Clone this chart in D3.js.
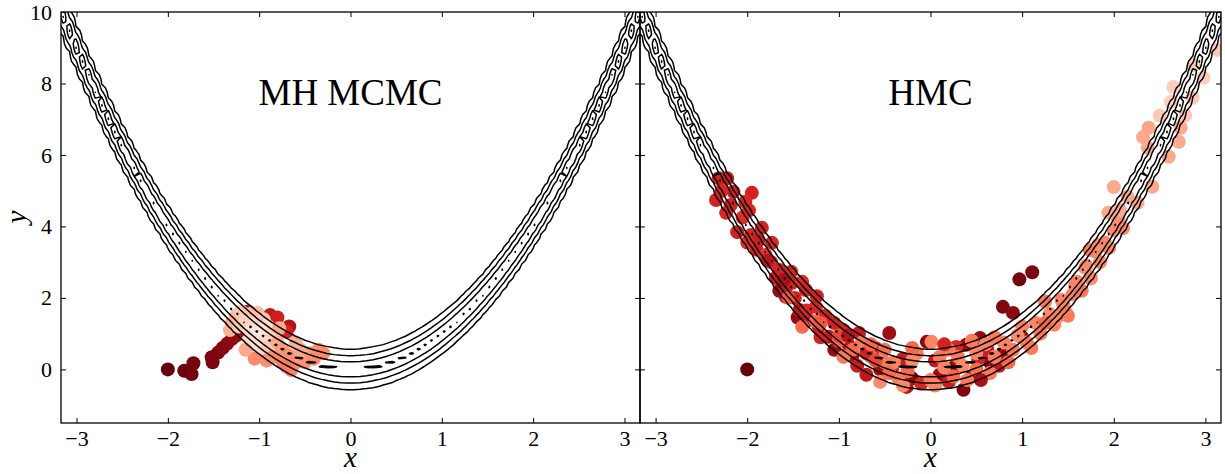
<!DOCTYPE html>
<html>
<head>
<meta charset="utf-8">
<script src="https://cdn.jsdelivr.net/npm/d3@7"></script>
<style>
  body { margin: 0; background: #fff; }
  svg { display: block; }
</style>
</head>
<body>
<svg id="fig" width="1225" height="474"></svg>
<script>
// ---- tick values and panel titles ----
const xTicks = [-3, -2, -1, 0, 1, 2, 3];
const yTicks = [0, 2, 4, 6, 8, 10];
const panelTitles = ["MH MCMC", "HMC"];

// ---- Metropolis-Hastings samples (x, y, colour value on the Reds map) ----
const mhX = [-2.00, -1.82, -1.74, -1.72, -1.51, -1.52, -1.45, -1.40, -1.35, -1.30, -1.25, -1.18,
  -1.12, -0.88, -0.80, -0.67, -0.70,
  -1.30, -1.25, -1.20, -1.10, -1.02, -1.32, -1.22, -1.15, -1.05, -0.95, -0.90, -1.10, -1.00,
  -0.92, -0.85, -1.12, -1.05, -0.98, -0.90, -0.80, -0.75, -0.85, -0.92, -0.75, -0.68, -0.62,
  -0.55, -0.65, -0.70, -0.50, -0.45, -0.40, -0.35, -0.30, -0.55, -0.60, -1.00, -0.78, -1.05, -1.15];
const mhY = [0.00, -0.04, -0.13, 0.17, 0.20, 0.34, 0.47, 0.60, 0.72, 0.85, 0.95, 1.05,
  1.62, 1.52, 1.45, 1.20, 1.05,
  1.30, 1.50, 1.62, 1.55, 1.58, 1.10, 1.20, 1.35, 1.30, 1.40, 1.20, 1.05, 0.95,
  0.85, 1.00, 0.80, 0.60, 0.45, 0.62, 0.75, 0.55, 0.35, 0.25, 0.25, 0.40, 0.15,
  0.35, -0.02, 0.08, 0.20, 0.45, 0.30, 0.55, 0.45, 0.55, 0.75, 1.10, 1.15, 0.30, 0.55];
const mhC = [1.00, 0.99, 0.98, 0.97, 0.96, 0.96, 0.95, 0.94, 0.93, 0.92, 0.91, 0.88,
  0.80, 0.78, 0.74, 0.82, 0.72,
  0.30, 0.25, 0.20, 0.22, 0.25, 0.28, 0.20, 0.18, 0.15, 0.20, 0.15, 0.12, 0.12,
  0.14, 0.18, 0.13, 0.12, 0.15, 0.20, 0.30, 0.35, 0.40, 0.38, 0.42, 0.38, 0.40,
  0.35, 0.42, 0.45, 0.38, 0.35, 0.40, 0.38, 0.40, 0.30, 0.28, 0.10, 0.30, 0.40, 0.30];

// ---- Hamiltonian Monte Carlo samples ----
const hmcX = [
  -2.00, 0.97, 1.11, 0.79, 0.90, 0.36, -0.04, 0.39, 0.54, -0.45, 0.10, -0.20, 0.25, -0.55, 0.65,
  -1.45, -1.65, -1.05, -0.85, 0.45, 0.80, 1.00,
  -2.31, -2.22, -2.34, -2.15, -1.95, -2.02, -2.23, -2.11, -1.96, -1.84, -2.05, -1.73, -1.90, -1.74,
  -1.65, -1.69, -1.52, -1.51, -1.40, -1.36, -1.58, -1.58, -1.43, -1.33, -1.22, -1.11, -1.25, -1.15,
  -0.95, -0.78, -0.90, -0.70, -0.42, -0.26, 0.28, 0.52, 0.62, -0.60, -0.30, 0.05, 0.20, -0.10,
  0.75, -0.80, -1.20, -1.80,
  -1.40, -1.00, -0.75, -0.65, -0.50, -0.40, -0.35, -0.25, -0.15, 0.01, 0.10, 0.00, 0.15, 0.30,
  0.40, 0.50, 0.60, 0.70, 0.80, 0.90, 1.00, 1.05, 1.15, 1.20, 1.30, 1.35, 1.45, 1.50, -0.55,
  -0.30, -0.50, -0.20, 0.20, 0.35, 0.50, 0.65, -0.85, -1.25, -0.95, 1.55, 1.60, 1.65, 1.70, 1.75,
  1.80, 1.85, 1.90, 1.95, 2.00, 2.05, 2.10,
  -2.28, -2.18, -1.98, -1.88, -2.00, -1.78, -1.60, -1.48, -1.35, -1.24, -1.20, -1.05, -1.00,
  -0.90, -0.70, -0.65, -0.60, -1.55, -0.45, -0.20, 0.05, 0.25, 0.15, 0.45, 0.55, 0.70, 0.85,
  0.95, 1.10, 1.25, 1.40, 1.43, 1.47, 1.58, 1.69, 1.74, 1.83, 1.25,
  1.94, 2.15, 2.26, 2.42, 2.60, 2.71, 2.73, 2.32, 2.37, 2.38, 2.62, 2.65, 2.86, 2.87, 2.98, 3.13,
  2.50, 2.78, 2.07, 2.00];
const hmcY = [
  0.00, 2.52, 2.72, 1.75, 1.58, -0.57, 0.77, 0.69, 0.88, 1.02, -0.15, -0.25, 0.05, 0.00, 0.20,
  1.45, 2.20, 0.55, 0.40, -0.20, 0.45, 0.90,
  5.35, 5.35, 4.74, 4.97, 4.94, 4.69, 4.38, 3.84, 3.76, 3.96, 4.25, 3.54, 3.35, 3.00,
  2.78, 2.56, 2.73, 2.42, 2.45, 2.22, 2.17, 2.03, 1.66, 1.38, 1.19, 0.91, 1.75, 1.50,
  1.10, 1.02, 0.70, -0.15, 0.00, -0.49, 0.63, 0.30, 0.55, 0.60, 0.30, 0.25, -0.35, -0.40,
  0.10, 0.10, 0.90, 3.20,
  1.19, 0.80, 0.75, 0.35, 0.55, 0.20, -0.25, -0.05, 0.45, 0.77, 0.35, -0.30, 0.05, 0.35,
  -0.30, 0.00, 0.70, 0.35, 0.75, 0.55, 1.20, 0.75, 1.30, 1.00, 1.55, 1.25, 1.80, 1.50, -0.35,
  -0.45, 0.20, 0.25, 0.55, 0.10, 0.45, -0.10, 0.55, 1.35, 0.35, 2.10, 2.45, 2.20, 2.90, 2.55,
  3.30, 3.00, 3.55, 3.40, 3.90, 4.20, 3.95,
  5.00, 4.60, 4.45, 3.60, 3.55, 3.05, 2.50, 2.00, 1.65, 2.05, 1.30, 1.30, 0.95,
  0.95, 0.45, 0.70, 0.25, 2.00, -0.10, 0.60, -0.45, -0.20, 0.70, 0.80, -0.30, 0.90, 0.20,
  0.95, 0.60, 1.30, 1.50, 1.94, 1.60, 2.36, 2.84, 3.34, 3.48, 1.90,
  4.38, 4.83, 4.66, 5.11, 5.95, 6.37, 6.76, 6.50, 6.20, 6.76, 7.48, 7.90, 7.60, 8.52, 8.16, 8.94,
  7.10, 7.10, 4.46, 5.10];
const hmcC = [
  1.00, 0.97, 0.96, 0.95, 0.92, 0.95, 0.93, 0.90, 0.90, 0.88, 0.90, 0.92, 0.90, 0.88, 0.90,
  0.90, 0.90, 0.90, 0.88, 0.90, 0.90, 0.88,
  0.72, 0.75, 0.72, 0.74, 0.72, 0.70, 0.70, 0.72, 0.70, 0.72, 0.68, 0.70, 0.72, 0.70,
  0.72, 0.75, 0.70, 0.72, 0.68, 0.72, 0.75, 0.80, 0.78, 0.80, 0.75, 0.78, 0.70, 0.72,
  0.70, 0.75, 0.78, 0.78, 0.72, 0.80, 0.70, 0.72, 0.75, 0.72, 0.75, 0.78, 0.75, 0.70,
  0.78, 0.75, 0.72, 0.65,
  0.50, 0.50, 0.45, 0.45, 0.48, 0.42, 0.45, 0.50, 0.45, 0.42, 0.45, 0.45, 0.42, 0.45,
  0.45, 0.48, 0.42, 0.45, 0.42, 0.45, 0.42, 0.45, 0.42, 0.45, 0.40, 0.42, 0.40, 0.45, 0.40,
  0.40, 0.45, 0.40, 0.45, 0.40, 0.42, 0.45, 0.50, 0.50, 0.45, 0.42, 0.42, 0.45, 0.42, 0.40,
  0.42, 0.40, 0.42, 0.40, 0.40, 0.38, 0.40,
  0.70, 0.72, 0.70, 0.75, 0.68, 0.80, 0.85, 0.72, 0.70, 0.72, 0.55, 0.72, 0.60,
  0.82, 0.72, 0.50, 0.60, 0.55, 0.50, 0.50, 0.42, 0.50, 0.72, 0.45, 0.85, 0.45, 0.50,
  0.40, 0.45, 0.50, 0.42, 0.42, 0.45, 0.42, 0.40, 0.42, 0.40, 0.45,
  0.30, 0.30, 0.30, 0.30, 0.30, 0.30, 0.30, 0.30, 0.30, 0.32, 0.18, 0.18, 0.20, 0.18, 0.18, 0.20,
  0.20, 0.20, 0.30, 0.30];

// ---- banana-shaped target density: ridge along y = x^2 ----
const ridgeWidth = 0.25;
const contourLevels = [0.08, 0.32, 0.70, 0.98];
const gridX = { min: -3.5, max: 3.5, n: 100 };
const gridY = { min: -1.66, max: 10.6, n: 100 };
function density(x, y) {
  const r = (y - x * x) / ridgeWidth;
  return Math.exp(-0.5 * r * r);
}

// ---- layout ----
const plotTop = 12, plotBottom = 423;
const panels = [
  { left: 61, right: 640, title: panelTitles[0], xs: mhX, ys: mhY, cs: mhC, yLabels: true },
  { left: 640, right: 1221, title: panelTitles[1], xs: hmcX, ys: hmcY, cs: hmcC, yLabels: false }
];
const serif = "'Liberation Serif', 'Times New Roman', Times, serif";
const svg = d3.select("#fig");

// density grid, evaluated once and shared by both panels
const dxg = (gridX.max - gridX.min) / (gridX.n - 1);
const dyg = (gridY.max - gridY.min) / (gridY.n - 1);
const gridValues = new Float64Array(gridX.n * gridY.n);
for (let j = 0; j < gridY.n; j++) {
  for (let i = 0; i < gridX.n; i++) {
    gridValues[j * gridX.n + i] = density(gridX.min + i * dxg, gridY.min + j * dyg);
  }
}
const contourSet = d3.contours().size([gridX.n, gridY.n]).thresholds(contourLevels)(gridValues);

panels.forEach((p, k) => {
  const sx = d3.scaleLinear().domain([-3.17, 3.17]).range([p.left, p.right]);
  const sy = d3.scaleLinear().domain([-1.5, 10]).range([plotBottom, plotTop]);
  const g = svg.append("g");

  const clipId = "clip" + k;
  svg.append("clipPath").attr("id", clipId)
    .append("rect").attr("x", p.left).attr("y", plotTop)
    .attr("width", p.right - p.left).attr("height", plotBottom - plotTop);

  const plot = g.append("g").attr("clip-path", `url(#${clipId})`);

  // samples, coloured by their position in the chain
  const pts = d3.range(p.xs.length);
  plot.append("g").selectAll("circle").data(pts).join("circle")
    .attr("cx", i => sx(p.xs[i]))
    .attr("cy", i => sy(p.ys[i]))
    .attr("r", 7)
    .attr("fill", i => d3.interpolateReds(p.cs[i]));

  // density contours (grid coordinates -> data -> pixels)
  const proj = d3.geoTransform({
    point: function (gx, gy) {
      this.stream.point(sx(gridX.min + (gx - 0.5) * dxg), sy(gridY.min + (gy - 0.5) * dyg));
    }
  });
  const path = d3.geoPath(proj);
  plot.append("g").selectAll("path").data(contourSet).join("path")
    .attr("d", path)
    .attr("fill", "none")
    .attr("stroke", "#000")
    .attr("stroke-width", 1.5)
    .attr("stroke-linejoin", "round");

  // axes with inward ticks on all four sides
  const styleAxis = sel => {
    sel.select(".domain").remove();
    sel.attr("font-family", serif).attr("font-size", 22);
    sel.selectAll(".tick line").attr("stroke", "#000").attr("stroke-width", 1);
    sel.selectAll(".tick text").attr("fill", "#000");
  };
  g.append("g").attr("transform", `translate(0,${plotBottom})`)
    .call(d3.axisBottom(sx).tickValues(xTicks).tickSize(-5).tickPadding(7)
      .tickFormat(d3.format("d"))).call(styleAxis);
  g.append("g").attr("transform", `translate(0,${plotTop})`)
    .call(d3.axisTop(sx).tickValues(xTicks).tickSize(-5).tickFormat("")).call(styleAxis);
  g.append("g").attr("transform", `translate(${p.left},0)`)
    .call(d3.axisLeft(sy).tickValues(yTicks).tickSize(-5).tickPadding(9)
      .tickFormat(p.yLabels ? d3.format("d") : "")).call(styleAxis);
  g.append("g").attr("transform", `translate(${p.right},0)`)
    .call(d3.axisRight(sy).tickValues(yTicks).tickSize(-5).tickFormat("")).call(styleAxis);

  g.append("rect")
    .attr("x", p.left).attr("y", plotTop)
    .attr("width", p.right - p.left).attr("height", plotBottom - plotTop)
    .attr("fill", "none").attr("stroke", "#000").attr("stroke-width", 1.3);

  // panel title
  g.append("text")
    .attr("x", sx(0)).attr("y", sy(7.4))
    .attr("text-anchor", "middle")
    .attr("font-family", serif).attr("font-size", 37)
    .text(p.title);

  // x label
  g.append("text")
    .attr("x", sx(0)).attr("y", 467)
    .attr("text-anchor", "middle")
    .attr("font-family", serif).attr("font-style", "italic").attr("font-size", 29)
    .text("x");
});

// y label
svg.append("text")
  .attr("transform", "translate(26,217) rotate(-90)")
  .attr("text-anchor", "middle")
  .attr("font-family", serif).attr("font-style", "italic").attr("font-size", 29)
  .text("y");
</script>
</body>
</html>
